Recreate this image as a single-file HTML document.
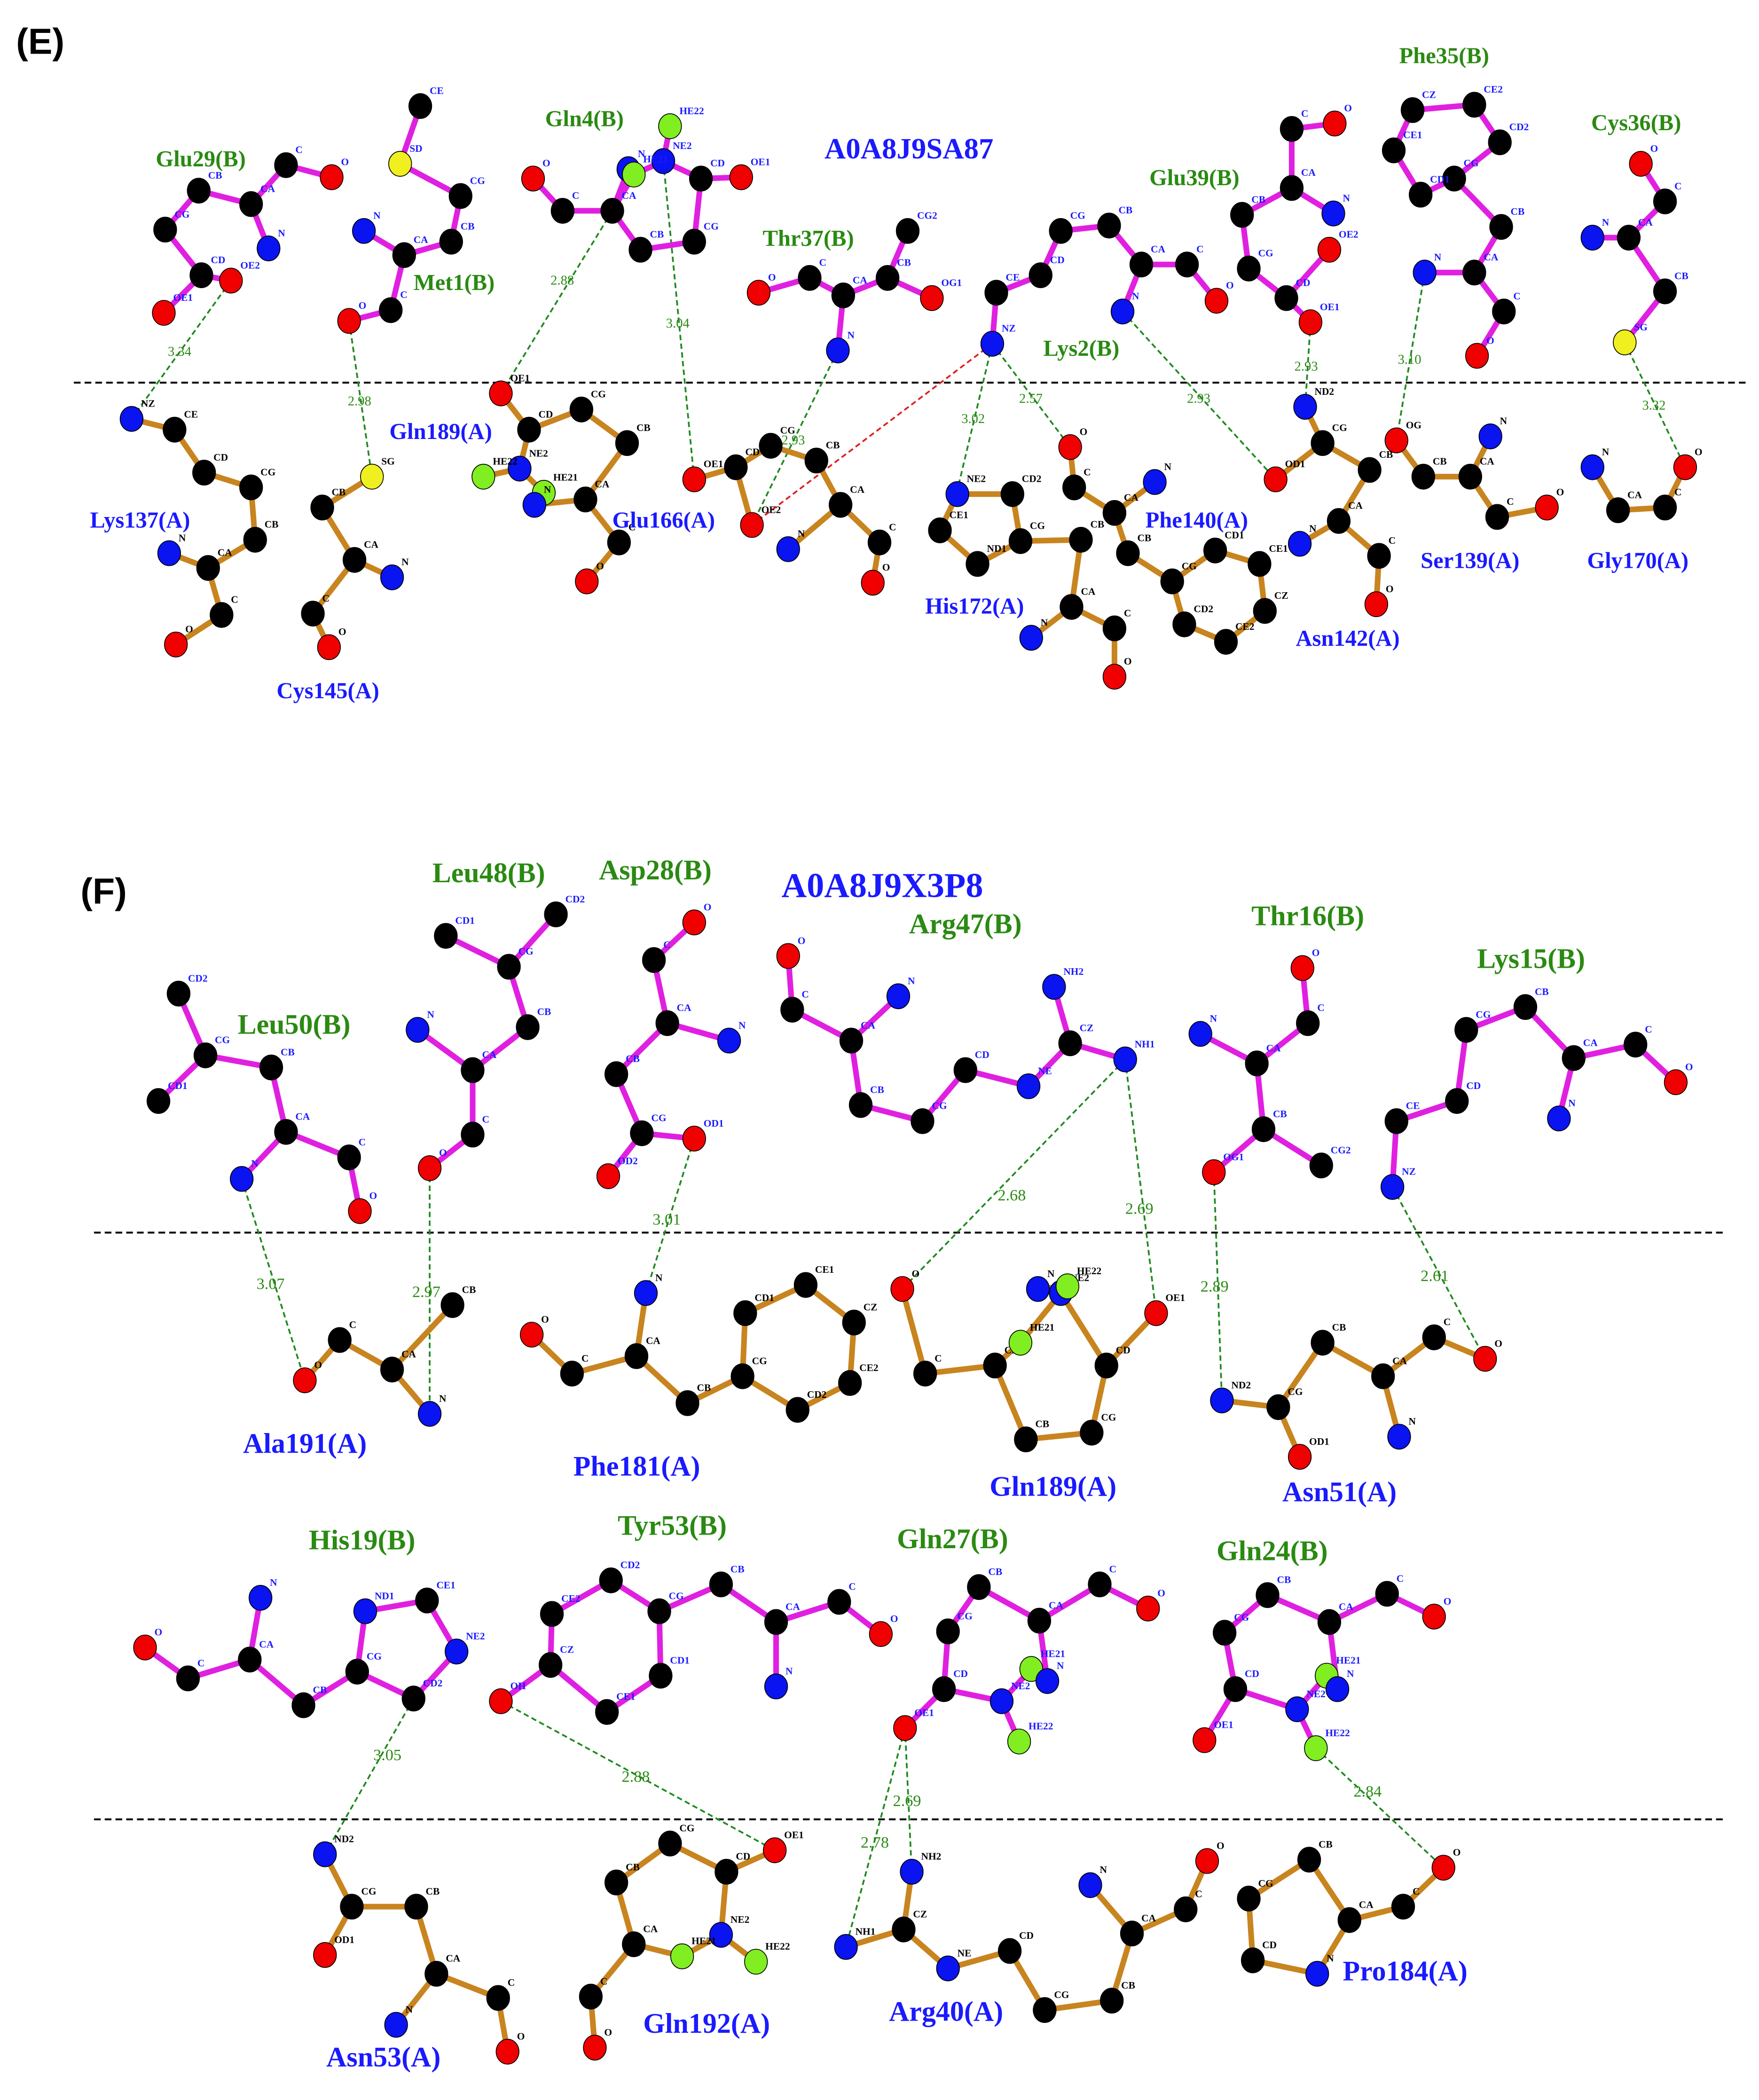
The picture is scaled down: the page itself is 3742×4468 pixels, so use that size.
<!DOCTYPE html>
<html><head><meta charset="utf-8"><style>
html,body{margin:0;padding:0;background:#fff;}
svg{display:block;}
.rl{font-family:"Liberation Serif",serif;font-weight:bold;font-size:19px;}
.g{fill:#2a8a12;}
.bl{fill:#1a1aff;}
.d{font-family:"Liberation Serif",serif;font-size:10px;fill:#2a8a12;}
.al{font-family:"Liberation Serif",serif;font-weight:bold;font-size:7.5px;}
</style></head><body>
<svg id="s" width="3742" height="4468" viewBox="0 0 1310 1564" preserveAspectRatio="none" xmlns="http://www.w3.org/2000/svg">
<rect width="1310" height="1564" fill="#fff"/>
<text x="12" y="40" font-family="Liberation Sans,sans-serif" font-weight="bold" font-size="27">(E)</text>
<text x="60" y="673" font-family="Liberation Sans,sans-serif" font-weight="bold" font-size="27">(F)</text>
<text x="614" y="118" class="rl bl" font-size="22" style="font-size:22px">A0A8J9SA87</text>
<text x="582" y="668" class="rl bl" style="font-size:26px">A0A8J9X3P8</text>
<g stroke="#000" stroke-width="1.4" stroke-dasharray="5,3">
<line x1="55" y1="285" x2="1300" y2="285"/>
<line x1="70" y1="918" x2="1283" y2="918"/>
<line x1="70" y1="1355" x2="1283" y2="1355"/>
</g>
<g id="hb" stroke="#1f8a1f" stroke-width="1.3" stroke-dasharray="4,2.5" fill="none">
<line x1="172" y1="209" x2="98" y2="312"/>
<line x1="260" y1="239" x2="277" y2="355"/>
<line x1="456" y1="157" x2="373" y2="293"/>
<line x1="494" y1="120" x2="517" y2="357"/>
<line x1="624" y1="261" x2="560" y2="391"/>
<line x1="739" y1="256" x2="713" y2="365"/>
<line x1="739" y1="256" x2="797" y2="333"/>
<line x1="836" y1="232" x2="950" y2="357"/>
<line x1="976" y1="240" x2="972" y2="303"/>
<line x1="1061" y1="203" x2="1040" y2="328"/>
<line x1="1210" y1="255" x2="1255" y2="348"/>
<line x1="180" y1="878" x2="227" y2="1028"/>
<line x1="320" y1="870" x2="320" y2="1053"/>
<line x1="517" y1="848" x2="481" y2="963"/>
<line x1="838" y1="789" x2="672" y2="960"/>
<line x1="838" y1="789" x2="861" y2="978"/>
<line x1="904" y1="873" x2="910" y2="1043"/>
<line x1="1037" y1="884" x2="1106" y2="1012"/>
<line x1="308" y1="1265" x2="242" y2="1381"/>
<line x1="373" y1="1267" x2="577" y2="1378"/>
<line x1="674" y1="1287" x2="630" y2="1450"/>
<line x1="674" y1="1287" x2="679" y2="1394"/>
<line x1="980" y1="1302" x2="1075" y2="1391"/>
</g>
<line x1="739" y1="256" x2="560" y2="391" stroke="#e02020" stroke-width="1.3" stroke-dasharray="4,2.5"/>
<g class="d">
<text x="125" y="265">3.34</text><text x="259" y="302">2.98</text><text x="410" y="212">2.88</text>
<text x="496" y="244">3.04</text><text x="582" y="331">2.93</text><text x="716" y="315">3.02</text>
<text x="759" y="300">2.57</text><text x="884" y="300">2.93</text><text x="964" y="276">2.93</text>
<text x="1041" y="271">3.10</text><text x="1223" y="305">3.32</text>
<text x="191" y="960" font-size="12" style="font-size:12px">3.07</text><text x="307" y="966" style="font-size:12px">2.97</text>
<text x="486" y="912" style="font-size:12px">3.01</text><text x="743" y="894" style="font-size:12px">2.68</text>
<text x="838" y="904" style="font-size:12px">2.69</text><text x="894" y="962" style="font-size:12px">2.89</text>
<text x="1058" y="954" style="font-size:12px">2.61</text>
<text x="278" y="1311" style="font-size:12px">3.05</text><text x="463" y="1327" style="font-size:12px">2.88</text>
<text x="641" y="1376" style="font-size:12px">2.78</text><text x="665" y="1345" style="font-size:12px">2.69</text>
<text x="1008" y="1338" style="font-size:12px">2.84</text>
</g>
<g id="mol"></g>
<g class="rl">
<text x="116" y="124" class="g" style="font-size:17px">Glu29(B)</text>
<text x="308" y="216" class="g" style="font-size:17px">Met1(B)</text>
<text x="406" y="94" class="g" style="font-size:17px">Gln4(B)</text>
<text x="568" y="183" class="g" style="font-size:17px">Thr37(B)</text>
<text x="777" y="265" class="g" style="font-size:17px">Lys2(B)</text>
<text x="856" y="138" class="g" style="font-size:17px">Glu39(B)</text>
<text x="1042" y="47" class="g" style="font-size:17px">Phe35(B)</text>
<text x="1185" y="97" class="g" style="font-size:17px">Cys36(B)</text>
<text x="67" y="393" class="bl" style="font-size:17px">Lys137(A)</text>
<text x="206" y="520" class="bl" style="font-size:17px">Cys145(A)</text>
<text x="290" y="327" class="bl" style="font-size:17px">Gln189(A)</text>
<text x="456" y="393" class="bl" style="font-size:17px">Glu166(A)</text>
<text x="689" y="457" class="bl" style="font-size:17px">His172(A)</text>
<text x="853" y="393" class="bl" style="font-size:17px">Phe140(A)</text>
<text x="965" y="481" class="bl" style="font-size:17px">Asn142(A)</text>
<text x="1058" y="423" class="bl" style="font-size:17px">Ser139(A)</text>
<text x="1182" y="423" class="bl" style="font-size:17px">Gly170(A)</text>
<text x="322" y="657" class="g" style="font-size:21px">Leu48(B)</text>
<text x="446" y="655" class="g" style="font-size:21px">Asp28(B)</text>
<text x="177" y="770" class="g" style="font-size:21px">Leu50(B)</text>
<text x="677" y="695" class="g" style="font-size:21px">Arg47(B)</text>
<text x="932" y="689" class="g" style="font-size:21px">Thr16(B)</text>
<text x="1100" y="721" class="g" style="font-size:21px">Lys15(B)</text>
<text x="181" y="1082" class="bl" style="font-size:21px">Ala191(A)</text>
<text x="427" y="1099" class="bl" style="font-size:21px">Phe181(A)</text>
<text x="737" y="1114" class="bl" style="font-size:21px">Gln189(A)</text>
<text x="955" y="1118" class="bl" style="font-size:21px">Asn51(A)</text>
<text x="230" y="1154" class="g" style="font-size:21px">His19(B)</text>
<text x="460" y="1143" class="g" style="font-size:21px">Tyr53(B)</text>
<text x="668" y="1153" class="g" style="font-size:21px">Gln27(B)</text>
<text x="906" y="1162" class="g" style="font-size:21px">Gln24(B)</text>
<text x="243" y="1539" class="bl" style="font-size:21px">Asn53(A)</text>
<text x="479" y="1514" class="bl" style="font-size:21px">Gln192(A)</text>
<text x="662" y="1505" class="bl" style="font-size:21px">Arg40(A)</text>
<text x="1000" y="1475" class="bl" style="font-size:21px">Pro184(A)</text>
</g>
</svg>
<script>
const C={k:'#000',r:'#f00000',b:'#0a14f0',y:'#f0f020',g:'#80ee20'};
const L='#e020e0',P='#c8841e';
const M=[
[L,'CB 148 142 k,CA 187 152 k,C 213 123 k,O 247 132 r,N 200 185 b,CG 123 171 k,CD 150 205 k,OE1 122 233 r,OE2 172 209 r','CB-CA CA-C C-O CA-N CB-CG CG-CD CD-OE1 CD-OE2'],
[L,'CE 313 79 k,SD 298 122 y,CG 343 146 k,CB 336 180 k,CA 301 190 k,N 271 172 b,C 291 231 k,O 260 239 r','CE-SD SD-CG CG-CB CB-CA CA-N CA-C C-O'],
[L,'N 468 126 b,CA 456 157 k,C 419 157 k,O 397 133 r,CB 477 186 k,CG 517 180 k,CD 522 133 k,OE1 552 132 r,NE2 494 120 b,HE22 499 94 g,HE21 472 130 g','CA-N CA-C C-O CA-CB CB-CG CG-CD CD-OE1 CD-NE2 NE2-HE22 NE2-HE21 CA-HE21'],
[L,'O 565 218 r,C 603 207 k,CA 628 220 k,N 624 261 b,CB 661 207 k,CG2 676 172 k,OG1 694 222 r','O-C C-CA CA-N CA-CB CB-CG2 CB-OG1'],
[L,'NZ 739 256 b,CE 742 218 k,CD 775 205 k,CG 790 172 k,CB 826 168 k,CA 850 197 k,N 836 232 b,C 884 197 k,O 906 224 r','NZ-CE CE-CD CD-CG CG-CB CB-CA CA-N CA-C C-O'],
[L,'C 962 96 k,O 994 92 r,CA 962 140 k,N 993 159 b,CB 925 160 k,CG 930 200 k,CD 958 222 k,OE1 976 240 r,OE2 990 186 r','C-O C-CA CA-N CA-CB CB-CG CG-CD CD-OE1 CD-OE2'],
[L,'CZ 1052 82 k,CE2 1098 78 k,CD2 1117 106 k,CG 1083 133 k,CD1 1058 145 k,CE1 1038 112 k,CB 1118 169 k,CA 1098 203 k,N 1061 203 b,C 1120 232 k,O 1100 265 r','CZ-CE2 CE2-CD2 CD2-CG CG-CD1 CD1-CE1 CE1-CZ CG-CB CB-CA CA-N CA-C C-O'],
[L,'O 1222 122 r,C 1240 150 k,CA 1213 177 k,N 1186 177 b,CB 1240 217 k,SG 1210 255 y','O-C C-CA CA-N CA-CB CB-SG'],
[P,'NZ 98 312 b,CE 130 320 k,CD 152 352 k,CG 187 363 k,CB 190 402 k,CA 155 423 k,N 126 412 b,C 165 458 k,O 131 480 r','NZ-CE CE-CD CD-CG CG-CB CB-CA CA-N CA-C C-O'],
[P,'SG 277 355 y,CB 240 378 k,CA 264 417 k,N 292 430 b,C 233 457 k,O 245 482 r','SG-CB CB-CA CA-N CA-C C-O'],
[P,'OE1 373 293 r,CD 394 320 k,CG 433 305 k,CB 467 330 k,CA 436 372 k,NE2 387 349 b,HE22 360 355 g,HE21 405 367 g,N 398 376 b,C 461 404 k,O 437 433 r','OE1-CD CD-CG CG-CB CB-CA CA-N CD-NE2 NE2-HE22 NE2-HE21 CA-C C-O'],
[P,'OE1 517 357 r,CD 548 348 k,CG 574 332 k,CB 608 343 k,CA 626 376 k,N 587 409 b,C 655 404 k,O 650 434 r,OE2 560 391 r','OE1-CD CD-CG CG-CB CB-CA CA-N CA-C C-O CD-OE2'],
[P,'NE2 713 368 b,CD2 754 368 k,CG 760 403 k,ND1 728 420 k,CE1 700 395 k,CB 805 402 k,CA 798 452 k,N 768 475 b,C 830 468 k,O 830 504 r','NE2-CD2 CD2-CG CG-ND1 ND1-CE1 CE1-NE2 CG-CB CB-CA CA-N CA-C C-O'],
[P,'O 797 333 r,C 800 363 k,CA 830 382 k,N 860 359 b,CB 840 412 k,CG 873 433 k,CD1 905 410 k,CE1 938 420 k,CZ 942 455 k,CE2 913 478 k,CD2 882 465 k','O-C C-CA CA-N CA-CB CB-CG CG-CD1 CD1-CE1 CE1-CZ CZ-CE2 CE2-CD2 CD2-CG'],
[P,'ND2 972 303 b,CG 985 330 k,OD1 950 357 r,CB 1020 350 k,CA 997 388 k,N 968 405 b,C 1027 414 k,O 1025 450 r','ND2-CG CG-OD1 CG-CB CB-CA CA-N CA-C C-O'],
[P,'OG 1040 328 r,CB 1060 355 k,CA 1095 355 k,N 1110 325 b,C 1115 385 k,O 1152 378 r','OG-CB CB-CA CA-N CA-C C-O'],
[P,'O 1255 348 r,C 1240 378 k,CA 1205 380 k,N 1186 348 b','O-C C-CA CA-N'],
[L,'CD1 332 697 k,CD2 414 681 k,CG 379 720 k,CB 393 765 k,CA 352 797 k,N 311 767 b,C 352 845 k,O 320 870 r','CD1-CG CD2-CG CG-CB CB-CA CA-N CA-C C-O'],
[L,'O 517 687 r,C 487 715 k,CA 497 762 k,N 543 775 b,CB 459 800 k,CG 478 844 k,OD1 517 848 r,OD2 453 876 r','O-C C-CA CA-N CA-CB CB-CG CG-OD1 CG-OD2'],
[L,'CD2 133 740 k,CG 153 786 k,CD1 118 820 k,CB 202 795 k,CA 213 843 k,N 180 878 b,C 260 862 k,O 268 902 r','CD2-CG CG-CD1 CG-CB CB-CA CA-N CA-C C-O'],
[L,'O 587 712 r,C 590 752 k,CA 634 775 k,N 669 742 b,CB 641 823 k,CG 687 835 k,CD 719 797 k,NE 766 809 b,CZ 797 777 k,NH2 785 735 b,NH1 838 789 b','O-C C-CA CA-N CA-CB CB-CG CG-CD CD-NE NE-CZ CZ-NH2 CZ-NH1'],
[L,'O 970 721 r,C 974 762 k,CA 936 792 k,N 894 770 b,CB 941 841 k,OG1 904 873 r,CG2 984 868 k','O-C C-CA CA-N CA-CB CB-OG1 CB-CG2'],
[L,'NZ 1037 884 b,CE 1040 835 k,CD 1085 820 k,CG 1092 767 k,CB 1136 750 k,CA 1172 788 k,N 1161 833 b,C 1218 778 k,O 1248 806 r','NZ-CE CE-CD CD-CG CG-CB CB-CA CA-N CA-C C-O'],
[P,'O 227 1028 r,C 253 998 k,CA 292 1020 k,CB 337 972 k,N 320 1053 b','O-C C-CA CA-CB CA-N'],
[P,'O 396 994 r,C 426 1023 k,CA 474 1010 k,N 481 963 b,CB 512 1045 k,CG 553 1025 k,CD1 555 978 k,CE1 600 957 k,CZ 636 985 k,CE2 633 1030 k,CD2 594 1050 k','O-C C-CA CA-N CA-CB CB-CG CG-CD1 CD1-CE1 CE1-CZ CZ-CE2 CE2-CD2 CD2-CG'],
[P,'O 672 960 r,C 689 1023 k,CA 741 1017 k,CB 764 1072 k,CG 813 1067 k,CD 824 1017 k,OE1 861 978 r,NE2 790 963 b,HE22 795 958 g,N 773 960 b,HE21 760 1000 g','O-C C-CA CA-CB CB-CG CG-CD CD-OE1 CD-NE2 NE2-HE22 NE2-HE21 CA-HE21 N-HE22'],
[P,'ND2 910 1043 b,CG 952 1048 k,OD1 968 1085 r,CB 985 1000 k,CA 1030 1025 k,N 1042 1070 b,C 1068 996 k,O 1106 1012 r','ND2-CG CG-OD1 CG-CB CB-CA CA-N CA-C C-O'],
[L,'O 108 1227 r,C 140 1250 k,CA 186 1236 k,N 194 1190 b,CB 226 1270 k,CG 266 1245 k,ND1 272 1200 b,CE1 318 1192 k,NE2 340 1230 b,CD2 308 1265 k','O-C C-CA CA-N CA-CB CB-CG CG-ND1 ND1-CE1 CE1-NE2 NE2-CD2 CD2-CG'],
[L,'OH 373 1267 r,CZ 410 1240 k,CE2 411 1202 k,CD2 455 1177 k,CG 491 1200 k,CD1 492 1248 k,CE1 452 1275 k,CB 537 1180 k,CA 578 1208 k,N 578 1256 b,C 625 1193 k,O 656 1217 r','OH-CZ CZ-CE2 CE2-CD2 CD2-CG CG-CD1 CD1-CE1 CE1-CZ CG-CB CB-CA CA-N CA-C C-O'],
[L,'CG 706 1215 k,CB 729 1182 k,CA 774 1207 k,C 819 1180 k,O 855 1198 r,CD 703 1258 k,OE1 674 1287 r,NE2 746 1267 b,HE21 768 1243 g,HE22 759 1297 g,N 780 1252 b','CG-CB CB-CA CA-C C-O CG-CD CD-OE1 CD-NE2 NE2-HE21 NE2-HE22 CA-N'],
[L,'CG 912 1216 k,CB 944 1188 k,CA 990 1208 k,C 1033 1187 k,O 1068 1204 r,CD 920 1258 k,OE1 897 1296 r,NE2 966 1273 b,HE21 988 1248 g,HE22 980 1302 g,N 996 1258 b','CG-CB CB-CA CA-C C-O CG-CD CD-OE1 CD-NE2 NE2-HE21 NE2-HE22 CA-N'],
[P,'ND2 242 1381 b,CG 262 1420 k,OD1 242 1456 r,CB 310 1420 k,CA 325 1470 k,N 295 1508 b,C 371 1488 k,O 378 1528 r','ND2-CG CG-OD1 CG-CB CB-CA CA-N CA-C C-O'],
[P,'OE1 577 1378 r,CD 541 1394 k,CG 499 1373 k,CB 459 1402 k,CA 472 1448 k,C 440 1487 k,O 443 1525 r,NE2 537 1441 b,HE22 563 1461 g,HE21 508 1457 g','OE1-CD CD-CG CG-CB CB-CA CA-C C-O CD-NE2 NE2-HE22 NE2-HE21 CA-HE21'],
[P,'NH2 679 1394 b,CZ 673 1437 k,NH1 630 1450 b,NE 706 1466 b,CD 752 1453 k,CG 778 1497 k,CB 828 1490 k,CA 843 1440 k,N 812 1404 b,C 883 1422 k,O 899 1386 r','NH2-CZ CZ-NH1 CZ-NE NE-CD CD-CG CG-CB CB-CA CA-N CA-C C-O'],
[P,'CB 975 1385 k,CG 930 1414 k,CD 933 1460 k,N 981 1470 b,CA 1005 1430 k,C 1045 1420 k,O 1075 1391 r','CB-CG CG-CD CD-N N-CA CA-CB CA-C C-O']
];
const g=document.getElementById('mol');let h='';
for(const [col,as,bs] of M){const A={};for(const s of as.split(',')){const p=s.trim().split(' ');A[p[0]]=[+p[1],+p[2],p[3]];}
for(const b of bs.split(' ')){const [u,v]=b.split('-');const a=A[u],c=A[v];h+=`<line x1="${a[0]}" y1="${a[1]}" x2="${c[0]}" y2="${c[1]}" stroke="${col}" stroke-width="4.2"/>`;}
for(const k in A){const a=A[k];h+=`<ellipse cx="${a[0]}" cy="${a[1]}" rx="8.5" ry="9.3" fill="${C[a[2]]}" stroke="#000" stroke-width="0.6"/>`;
h+=`<text x="${a[0]+7}" y="${a[1]-9}" class="al" fill="${col==L?'#1a1aff':'#000'}">${k}</text>`;}}
g.innerHTML=h;
</script>
</body></html>
